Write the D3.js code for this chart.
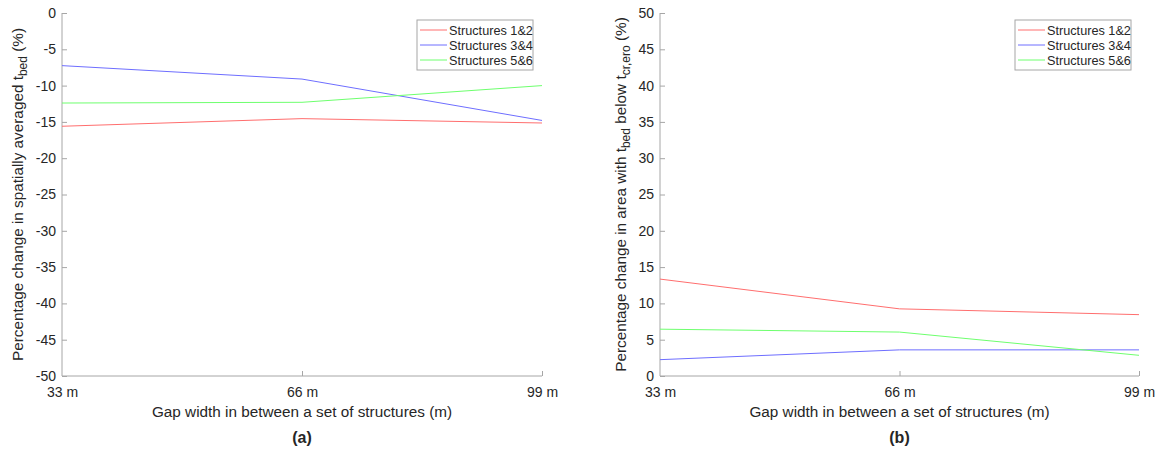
<!DOCTYPE html>
<html>
<head>
<meta charset="utf-8">
<script src="https://cdn.jsdelivr.net/npm/d3@7/dist/d3.min.js"></script>
<style>
  html, body { margin: 0; padding: 0; background: #fff; }
  svg { display: block; }
  text { font-family: "Liberation Sans", Arial, sans-serif; fill: #262626; }
</style>
</head>
<body>
<svg id="chart" width="1158" height="455"></svg>
<script>
// Gap widths between a set of structures
const gaps = ["33 m", "66 m", "99 m"];
const seriesNames = ["Structures 1&2", "Structures 3&4", "Structures 5&6"];
const seriesColors = ["#ff6e6e", "#6e6eff", "#6eff6e"];

// (a) change in spatially averaged bed shear stress (%)
const avgS12 = [-15.6, -14.55, -15.15];
const avgS34 = [-7.25, -9.1, -14.8];
const avgS56 = [-12.4, -12.3, -10.0];
const avgTicks = [0, -5, -10, -15, -20, -25, -30, -35, -40, -45, -50];

// (b) change in area with bed shear stress below critical erosion (%)
const areaS12 = [13.35, 9.25, 8.45];
const areaS34 = [2.25, 3.6, 3.6];
const areaS56 = [6.45, 6.05, 2.85];
const areaTicks = [0, 5, 10, 15, 20, 25, 30, 35, 40, 45, 50];

const svg = d3.select("#chart");
const axisColor = "#a6a6a6";
const tickFont = 14;
const labelFont = 15.3;

function drawPanel(opt) {
  const g = svg.append("g");
  const x = d3.scalePoint().domain(gaps).range([opt.left, opt.right]);
  const y = d3.scaleLinear().domain(opt.domain).range([opt.bottom, opt.top]);

  // y axis with inward ticks; plain hyphen for negatives
  const yAxis = g.append("g").attr("transform", `translate(${opt.left},0)`)
    .call(d3.axisRight(y).tickValues(opt.ticks).tickSize(5).tickFormat(d => String(d)));
  yAxis.select(".domain").attr("stroke", axisColor).attr("d", `M0,${opt.top}V${opt.bottom}`);
  yAxis.selectAll(".tick line").attr("stroke", axisColor);
  yAxis.selectAll(".tick text").attr("x", -6).attr("text-anchor", "end")
    .attr("font-size", tickFont).style("font-family", "Liberation Sans, Arial, sans-serif").attr("fill", "#262626");

  // x axis with inward ticks
  const xAxis = g.append("g").attr("transform", `translate(0,${opt.bottom})`)
    .call(d3.axisTop(x).tickSize(5));
  xAxis.select(".domain").attr("stroke", axisColor).attr("d", `M${opt.left},0H${opt.right}`);
  xAxis.selectAll(".tick line").attr("stroke", axisColor);
  xAxis.selectAll(".tick text").attr("y", 21).attr("dy", "0")
    .attr("font-size", tickFont).style("font-family", "Liberation Sans, Arial, sans-serif").attr("fill", "#262626");
  xAxis.selectAll(".tick").filter((d, i) => i === 0).select("line").remove();

  // series lines
  const line = d3.line().x((d, i) => x(gaps[i])).y(d => y(d));
  opt.series.forEach((vals, k) => {
    g.append("path").datum(vals).attr("d", line)
      .attr("fill", "none").attr("stroke", seriesColors[k]).attr("stroke-width", 1);
  });

  // x label
  const cx = (opt.left + opt.right) / 2;
  g.append("text").attr("x", cx).attr("y", 417).attr("text-anchor", "middle")
    .attr("font-size", labelFont).text("Gap width in between a set of structures (m)");
  // panel letter
  g.append("text").attr("x", cx).attr("y", 443).attr("text-anchor", "middle")
    .attr("font-size", 16).attr("font-weight", "bold").text(opt.letter);

  // y label (rotated)
  const cy = (opt.top + opt.bottom) / 2;
  const yl = g.append("text").attr("transform", `translate(${opt.ylabelX},${cy}) rotate(-90)`)
    .attr("text-anchor", "middle").attr("font-size", labelFont);
  opt.ylabel.forEach(part => {
    const ts = yl.append("tspan").text(part.t);
    if (part.sub) ts.attr("font-size", 12).attr("dy", 4);
    else if (part.after) ts.attr("dy", -4);
  });

  // legend
  const lg = g.append("g");
  lg.append("rect").attr("x", opt.legendX).attr("y", 20).attr("width", 116).attr("height", 50)
    .attr("fill", "#fff").attr("stroke", axisColor).attr("stroke-width", 1);
  seriesNames.forEach((name, k) => {
    const ly = 30 + k * 15;
    lg.append("line").attr("x1", opt.legendX + 3).attr("x2", opt.legendX + 30)
      .attr("y1", ly).attr("y2", ly).attr("stroke", seriesColors[k]).attr("stroke-width", 1);
    lg.append("text").attr("x", opt.legendX + 32).attr("y", ly + 4.5)
      .attr("font-size", 12.7).text(name);
  });
}

drawPanel({
  left: 62, right: 542, top: 13, bottom: 376,
  domain: [-50, 0], ticks: avgTicks,
  series: [avgS12, avgS34, avgS56],
  letter: "(a)", ylabelX: 23, legendX: 417,
  ylabel: [
    { t: "Percentage change in spatially averaged t" },
    { t: "bed", sub: true },
    { t: " (%)", after: true }
  ]
});

drawPanel({
  left: 660, right: 1139, top: 13, bottom: 376,
  domain: [0, 50], ticks: areaTicks,
  series: [areaS12, areaS34, areaS56],
  letter: "(b)", ylabelX: 626, legendX: 1015,
  ylabel: [
    { t: "Percentage change in area with t" },
    { t: "bed", sub: true },
    { t: " below t", after: true },
    { t: "cr,ero", sub: true },
    { t: " (%)", after: true }
  ]
});
</script>
</body>
</html>
